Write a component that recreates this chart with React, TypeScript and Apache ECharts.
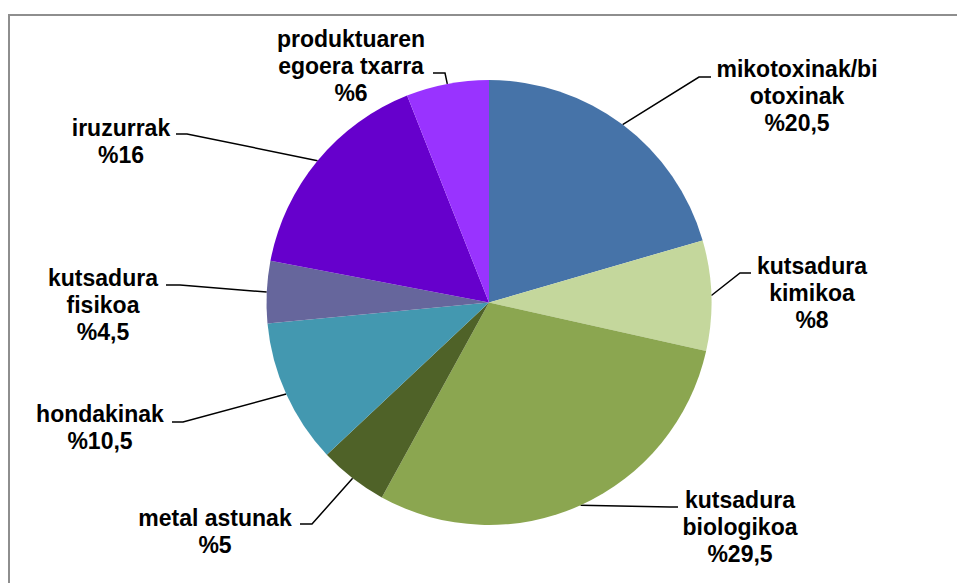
import React, { useEffect, useRef } from "react";
import * as echarts from "echarts";

const categories = [
  "mikotoxinak/bi\notoxinak",
  "kutsadura\nkimikoa",
  "kutsadura\nbiologikoa",
  "metal astunak",
  "hondakinak",
  "kutsadura\nfisikoa",
  "iruzurrak",
  "produktuaren\negoera txarra",
];
const values = [20.5, 8, 29.5, 5, 10.5, 4.5, 16, 6];
const colors = ["#4673A8", "#C4D79C", "#8BA650", "#4F6228", "#4398B0", "#66669C", "#6600CC", "#9933FF"];

// label block centres and leader-line bends (layout only)
const labelPos = [
  [797, 96],
  [812, 293],
  [740, 527],
  [215, 531],
  [100, 427],
  [103, 305],
  [121, 141],
  [351, 66],
];
const lineBends = [
  [699, 77, 711, 77],
  [740, 273, 751, 273],
  [670, 507, 678, 507],
  [312, 524, 300, 524],
  [183, 422, 172, 422],
  [180, 285, 166, 285],
  [187, 134, 176, 134],
  [445, 73, 433, 73],
];

export default function App() {
  const ref = useRef<HTMLDivElement>(null);
  useEffect(() => {
    if (!ref.current) return;
    const chart = echarts.init(ref.current, undefined, { renderer: "svg" });
    chart.setOption({
      animation: false,
      backgroundColor: "#ffffff",
      graphic: [
        {
          type: "rect",
          shape: { x: 9, y: 15, width: 1200, height: 1200 },
          style: { fill: "none", stroke: "#8E8E8E", lineWidth: 2 },
          silent: true,
          z: 0,
        },
      ],
      series: [
        {
          type: "pie",
          center: [489, 302.5],
          radius: 222.5,
          startAngle: 90,
          clockwise: true,
          avoidLabelOverlap: false,
          silent: true,
          emphasis: { disabled: true },
          itemStyle: { borderWidth: 0 },
          data: values.map((v, i) => ({
            name: categories[i],
            value: v,
            itemStyle: { color: colors[i] },
          })),
          label: {
            show: true,
            position: "outside",
            formatter: (p: any) => p.name + "\n%" + String(p.value).replace(".", ","),
            fontFamily: "Liberation Sans, Arial, sans-serif",
            fontWeight: "bold",
            fontSize: 23,
            lineHeight: 27,
            color: "#000000",
            align: "center",
          },
          labelLine: {
            show: true,
            length: 10,
            length2: 10,
            smooth: false,
            lineStyle: { color: "#000000", width: 1.5 },
          },
          labelLayout: (params: any) => {
            const i = params.dataIndex;
            const start = params.labelLinePoints ? params.labelLinePoints[0] : [0, 0];
            const b = lineBends[i];
            return {
              x: labelPos[i][0],
              y: labelPos[i][1],
              align: "center",
              verticalAlign: "middle",
              labelLinePoints: [
                [start[0], start[1]],
                [b[0], b[1]],
                [b[2], b[3]],
              ],
            };
          },
        },
      ],
    });
    return () => chart.dispose();
  }, []);
  return (
    <div
      ref={ref}
      style={{ position: "fixed", left: 0, top: 0, width: 957, height: 583 }}
    />
  );
}
